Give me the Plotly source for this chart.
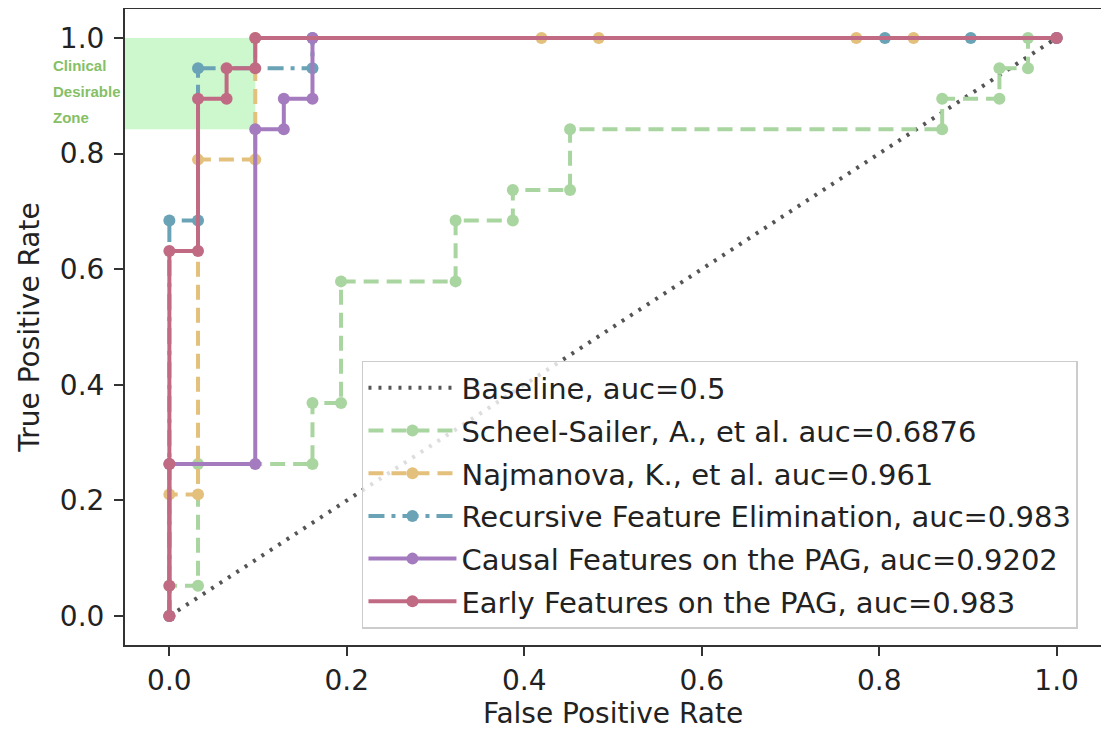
import plotly.graph_objects as go

# ---- data ----
baseline_fpr = [0.0, 1.0]
baseline_tpr = [0.0, 1.0]

scheel_fpr = [0.0, 0.0, 0.0323, 0.0323, 0.1613, 0.1613, 0.1935, 0.1935, 0.3226, 0.3226,
              0.3871, 0.3871, 0.4516, 0.4516, 0.8710, 0.8710, 0.9355, 0.9355, 0.9677, 0.9677, 1.0]
scheel_tpr = [0.0, 0.0526, 0.0526, 0.2632, 0.2632, 0.3684, 0.3684, 0.5789, 0.5789, 0.6842,
              0.6842, 0.7368, 0.7368, 0.8421, 0.8421, 0.8947, 0.8947, 0.9474, 0.9474, 1.0, 1.0]

najm_fpr = [0.0, 0.0, 0.0323, 0.0323, 0.0968, 0.0968, 0.4194, 0.4839, 0.7742, 0.8387, 1.0]
najm_tpr = [0.0, 0.2105, 0.2105, 0.7895, 0.7895, 1.0, 1.0, 1.0, 1.0, 1.0, 1.0]

rfe_fpr = [0.0, 0.0, 0.0323, 0.0323, 0.1613, 0.1613, 0.8065, 0.9032, 1.0]
rfe_tpr = [0.0, 0.6842, 0.6842, 0.9474, 0.9474, 1.0, 1.0, 1.0, 1.0]

causal_fpr = [0.0, 0.0, 0.0968, 0.0968, 0.1290, 0.1290, 0.1613, 0.1613, 1.0]
causal_tpr = [0.0, 0.2632, 0.2632, 0.8421, 0.8421, 0.8947, 0.8947, 1.0, 1.0]

early_fpr = [0.0, 0.0, 0.0, 0.0, 0.0323, 0.0323, 0.0645, 0.0645, 0.0968, 0.0968, 1.0]
early_tpr = [0.0, 0.0526, 0.2632, 0.6316, 0.6316, 0.8947, 0.8947, 0.9474, 0.9474, 1.0, 1.0]

labels = ["Baseline, auc=0.5",
          "Scheel-Sailer, A., et al. auc=0.6876",
          "Najmanova, K., et al. auc=0.961",
          "Recursive Feature Elimination, auc=0.983",
          "Causal Features on the PAG, auc=0.9202",
          "Early Features on the PAG, auc=0.983"]

zone_x = [-0.05, 0.0968]
zone_y = [0.842, 1.0]
zone_text = ["Clinical", "Desirable", "Zone"]

# ---- styles ----
FONT = "DejaVu Sans"
c_green = "#a9d5a0"
c_orange = "#e3c07c"
c_blue = "#6aa3b6"
c_purple = "#a57bbf"
c_red = "#c06a83"

fig = go.Figure()

fig.add_trace(go.Scatter(x=baseline_fpr, y=baseline_tpr, mode="lines", name=labels[0],
                         line=dict(color="#555555", width=4, dash="3px,7px"),
                         legendgroup="a"))

series = [
    (scheel_fpr, scheel_tpr, labels[1], c_green, "15px,8px", "b"),
    (najm_fpr, najm_tpr, labels[2], c_orange, "15px,8px", "c"),
    (rfe_fpr, rfe_tpr, labels[3], c_blue, "16px,7px,4px,7px", "d"),
    (causal_fpr, causal_tpr, labels[4], c_purple, "solid", "e"),
    (early_fpr, early_tpr, labels[5], c_red, "solid", "f"),
]
for fx, fy, nm, col, dash, grp in series:
    fig.add_trace(go.Scatter(x=fx, y=fy, mode="lines+markers", name=nm,
                             line=dict(color=col, width=4, dash=dash),
                             marker=dict(color=col, size=12),
                             legendgroup=grp))

fig.add_shape(type="rect", xref="x", yref="y", x0=zone_x[0], x1=zone_x[1],
              y0=zone_y[0], y1=zone_y[1], fillcolor="rgba(144,238,144,0.45)",
              line=dict(width=0), layer="below")

zone_ys = [0.953, 0.908, 0.863]
for t, yy in zip(zone_text, zone_ys):
    fig.add_annotation(x=-0.0758, y=yy, xref="paper", yref="y", text="<b>%s</b>" % t,
                       showarrow=False, xanchor="left", yanchor="middle",
                       font=dict(family="Liberation Sans", size=15, color="#86bf66"))

axis_common = dict(showline=True, linecolor="#333333", linewidth=2, mirror=True,
                   ticks="outside", ticklen=9, tickwidth=2, tickcolor="#333333",
                   showgrid=False, zeroline=False, tickformat=".1f", automargin=False,
                   tickfont=dict(family=FONT, size=28, color="#222222"),
                   tickvals=[0.0, 0.2, 0.4, 0.6, 0.8, 1.0])

fig.update_layout(
    width=1101, height=725,
    margin=dict(l=117, r=8, t=1, b=88),
    paper_bgcolor="white", plot_bgcolor="white",
    font=dict(family=FONT, color="#222222"),
    xaxis=dict(range=[-0.05, 1.05], title=dict(text="False Positive Rate", standoff=0,
               font=dict(family=FONT, size=28, color="#222222")), **axis_common),
    yaxis=dict(range=[-0.05, 1.05], title=dict(text="True Positive Rate", standoff=12,
               font=dict(family=FONT, size=28, color="#222222")),
               ticklabelstandoff=4, **axis_common),
    legend=dict(x=0.9764, y=0.0252, xanchor="right", yanchor="bottom",
                bgcolor="rgba(255,255,255,0.8)", bordercolor="#cccccc", borderwidth=1.5,
                font=dict(family=FONT, size=29, color="#222222"),
                itemwidth=88, tracegroupgap=2, traceorder="grouped"),
    showlegend=True,
)

fig.write_html("out.html")
